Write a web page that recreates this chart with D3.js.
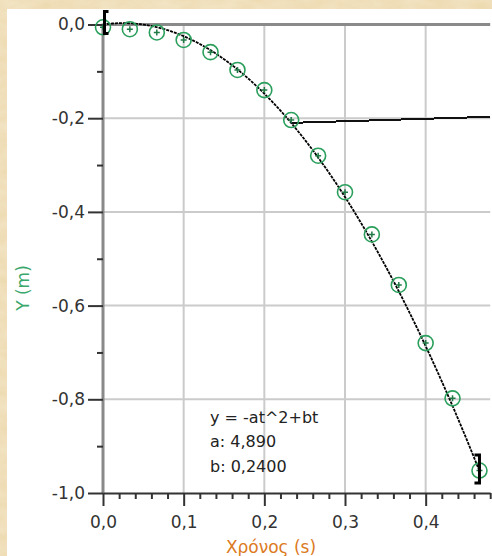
<!DOCTYPE html>
<html>
<head>
<meta charset="utf-8">
<script src="https://cdn.jsdelivr.net/npm/d3@7"></script>
<style>
    body { margin: 0; background: #e9d6ab; }
    svg { display: block; }
    text { font-family: "DejaVu Sans", Verdana, sans-serif; }
</style>
</head>
<body>
<div id="chart"></div>
<script>
// measured positions (video frames at 30 fps)
const times = [0, 0.0333, 0.0667, 0.1, 0.1333, 0.1667, 0.2, 0.2333, 0.2667, 0.3, 0.3333, 0.3667, 0.4, 0.4333, 0.4667];
const yValues = [-0.006, -0.010, -0.017, -0.033, -0.059, -0.097, -0.140, -0.204, -0.280, -0.358, -0.448, -0.556, -0.680, -0.798, -0.952];

const xTicks = [0, 0.1, 0.2, 0.3, 0.4];
const yTicks = [0, -0.2, -0.4, -0.6, -0.8, -1.0];

// curve fit shown in the chart
const fitA = 4.890;
const fitB = 0.2400;
const fitRange = [0, 0.4667];
const fitLabels = ["y = -at^2+bt", "a: 4,890", "b: 0,2400"];

// the extra black line starting at the 8th point
const cursorLine = [[0.2333, -0.210], [0.48, -0.197]];

const width = 492, height = 556;
const green = "#2a9f5c";

const fmt = d3.formatLocale({ decimal: ",", thousands: ".", grouping: [3], currency: ["", ""], minus: "-" }).format(".1f");

const svg = d3.select("#chart").append("svg")
    .attr("width", width)
    .attr("height", height);

// parchment background
const defs = svg.append("defs");
const filt = defs.append("filter").attr("id", "paper");
filt.append("feTurbulence").attr("type", "fractalNoise").attr("baseFrequency", "0.04 0.09").attr("numOctaves", 3).attr("seed", 4);
filt.append("feColorMatrix").attr("values", "0 0 0 0 0.93  0 0 0 0 0.84  0 0 0 0 0.66  0 0 0 -1.2 1.1");

svg.append("rect").attr("width", width).attr("height", height).attr("fill", "#ecd9ae");
svg.append("rect").attr("width", width).attr("height", height).attr("filter", "url(#paper)").attr("opacity", 0.6);

// white panel
svg.append("rect")
    .attr("x", 7).attr("y", 9)
    .attr("width", width - 7).attr("height", height - 9)
    .attr("fill", "#fff");

const x = d3.scaleLinear().domain([0, 0.48]).range([103, 490.2]);
const y = d3.scaleLinear().domain([-1, 0]).range([493, 24.5]);

// grid
svg.append("g")
    .selectAll("line")
    .data(xTicks.filter(d => d > 0))
    .enter().append("line")
    .attr("x1", d => x(d)).attr("x2", d => x(d))
    .attr("y1", y(0)).attr("y2", y(-1))
    .attr("stroke", "#cbcbcb").attr("stroke-width", 2);

svg.append("g")
    .selectAll("line")
    .data(yTicks.filter(d => d < 0 && d > -1))
    .enter().append("line")
    .attr("x1", x(0)).attr("x2", x(0.48))
    .attr("y1", d => y(d)).attr("y2", d => y(d))
    .attr("stroke", "#cbcbcb").attr("stroke-width", 2);

// zero line and y axis line
svg.append("line")
    .attr("x1", x(0)).attr("x2", x(0.48))
    .attr("y1", y(0)).attr("y2", y(0))
    .attr("stroke", "#8a8a8a").attr("stroke-width", 3);

svg.append("line")
    .attr("x1", x(0)).attr("x2", x(0))
    .attr("y1", y(0) - 1).attr("y2", y(-1))
    .attr("stroke", "#8a8a8a").attr("stroke-width", 3);

// y axis ticks
const yAxis = svg.append("g")
    .attr("transform", `translate(${x(0)},0)`)
    .call(d3.axisLeft(y).tickValues(yTicks).tickSize(15).tickPadding(3).tickFormat(fmt));
yAxis.select(".domain").remove();

const yMinor = svg.append("g")
    .attr("transform", `translate(${x(0)},0)`)
    .call(d3.axisLeft(y).tickValues([-0.1, -0.3, -0.5, -0.7, -0.9]).tickSize(6).tickFormat(""));
yMinor.select(".domain").remove();

// x axis
const xAxis = svg.append("g")
    .attr("transform", `translate(0,${y(-1)})`)
    .call(d3.axisBottom(x).tickValues(xTicks).tickSize(13).tickSizeOuter(0).tickPadding(10).tickFormat(fmt));

const xMinor = svg.append("g")
    .attr("transform", `translate(0,${y(-1)})`)
    .call(d3.axisBottom(x).tickValues(d3.range(0.02, 0.481, 0.02).filter(d => Math.abs(d * 10 - Math.round(d * 10)) > 0.01)).tickSize(6).tickFormat(""));
xMinor.select(".domain").remove();

svg.selectAll(".tick line").attr("stroke", "#333").attr("stroke-width", 2);
xAxis.select(".domain").attr("stroke", "#333").attr("stroke-width", 2);
svg.selectAll(".tick text")
    .style("font-family", "DejaVu Sans, Verdana, sans-serif")
    .style("font-size", "17px")
    .attr("fill", "#333");

// fit curve
const fitPoints = d3.range(fitRange[0], fitRange[1] + 0.0001, 0.002).map(t => [t, -fitA * t * t + fitB * t]);
svg.append("path")
    .datum(fitPoints)
    .attr("d", d3.line().x(d => x(d[0])).y(d => y(d[1])))
    .attr("fill", "none")
    .attr("stroke", "#000")
    .attr("stroke-width", 1.8)
    .attr("stroke-dasharray", "3,1");

// cursor line
svg.append("path")
    .datum(cursorLine)
    .attr("d", d3.line().x(d => x(d[0])).y(d => y(d[1])))
    .attr("fill", "none")
    .attr("stroke", "#111")
    .attr("stroke-width", 2)
    .attr("shape-rendering", "crispEdges");

// data points
const points = svg.append("g")
    .selectAll("g")
    .data(times.map((t, i) => ({ t: t, v: yValues[i] })))
    .enter().append("g")
    .attr("transform", d => `translate(${x(d.t)},${y(d.v)})`);

points.append("circle")
    .attr("r", 7.5)
    .attr("fill", "none")
    .attr("stroke", green)
    .attr("stroke-width", 1.6);

points.append("path")
    .attr("d", "M-3,0H3M0,-3V3")
    .attr("stroke", "#1f7a45")
    .attr("stroke-width", 1.5);

// fit range brackets
const fitY = t => -fitA * t * t + fitB * t;
const bx0 = x(fitRange[0]) + 1.5, by0 = y(fitY(fitRange[0])) - 2;
const bx1 = x(fitRange[1]), by1 = y(fitY(fitRange[1])) - 2;
svg.append("path")
    .attr("d", `M${bx0 + 4},${by0 - 11}H${bx0}V${by0 + 11}H${bx0 + 4}`)
    .attr("fill", "none").attr("stroke", "#000").attr("stroke-width", 3);
svg.append("path")
    .attr("d", `M${bx1 - 5},${by1 - 14}H${bx1}V${by1 + 14}H${bx1 - 5}`)
    .attr("fill", "none").attr("stroke", "#000").attr("stroke-width", 3);

// fit text
svg.append("g")
    .selectAll("text")
    .data(fitLabels)
    .enter().append("text")
    .attr("x", 210)
    .attr("y", (d, i) => 422.5 + i * 24.5)
    .style("font-size", "16px")
    .attr("fill", "#222")
    .text(d => d);

// axis titles
svg.append("text")
    .attr("transform", "translate(29,288) rotate(-90)")
    .attr("text-anchor", "middle")
    .style("font-size", "17px")
    .attr("fill", "#3aa86c")
    .text("Y (m)");

svg.append("text")
    .attr("x", 271)
    .attr("y", 553)
    .attr("text-anchor", "middle")
    .style("font-size", "17px")
    .attr("fill", "#dc7a22")
    .text("Χρόνος (s)");
</script>
</body>
</html>
